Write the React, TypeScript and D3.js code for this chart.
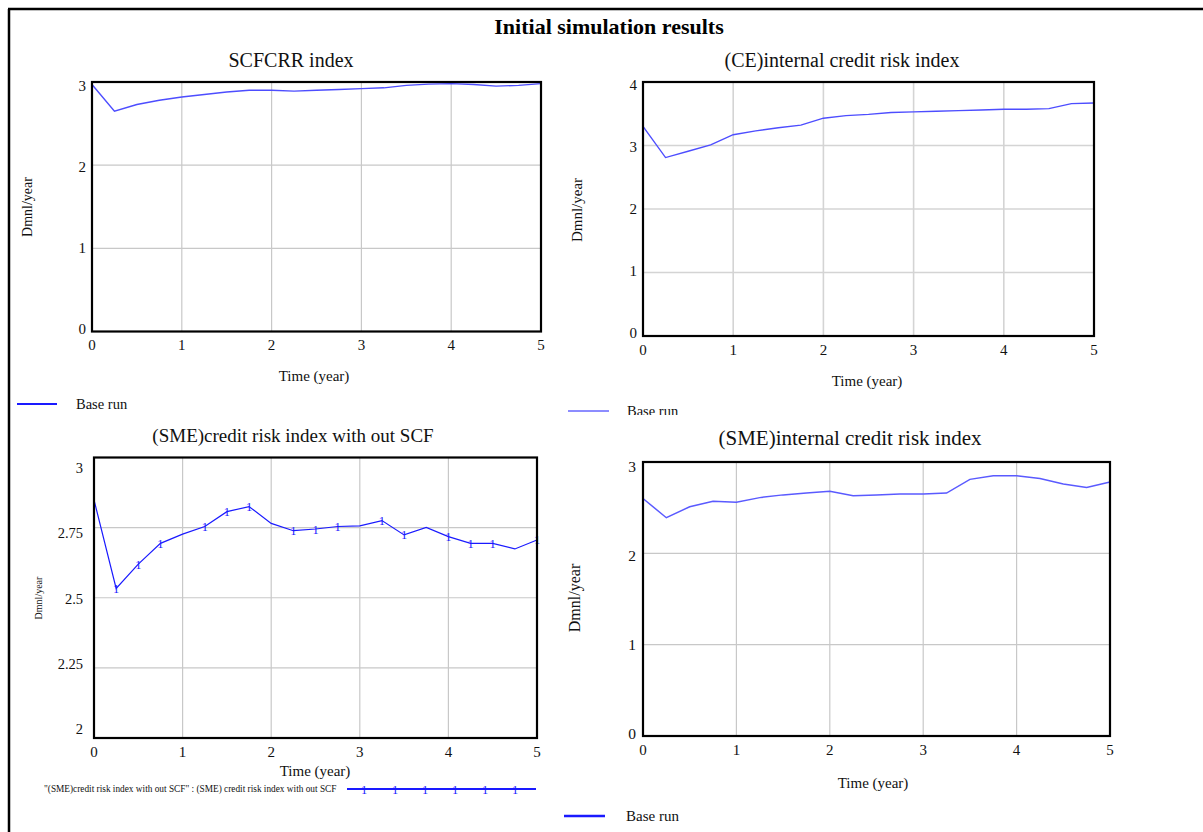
import { scaleLinear, line } from "d3";

// simulation time steps (year)
const times = [0, 0.25, 0.5, 0.75, 1, 1.25, 1.5, 1.75, 2, 2.25, 2.5, 2.75, 3, 3.25, 3.5, 3.75, 4, 4.25, 4.5, 4.75, 5];
const xTicks = [0, 1, 2, 3, 4, 5];

// series
const scfcrrIndex = [2.97, 2.65, 2.73, 2.78, 2.82, 2.85, 2.88, 2.9, 2.9, 2.89, 2.9, 2.91, 2.92, 2.93, 2.96, 2.975, 2.98, 2.97, 2.95, 2.96, 2.98];
const ceInternal = [3.3, 2.81, 2.91, 3.01, 3.17, 3.23, 3.28, 3.32, 3.43, 3.47, 3.49, 3.52, 3.53, 3.54, 3.55, 3.56, 3.57, 3.57, 3.58, 3.66, 3.67];
const smeNoScf = [2.849, 2.533, 2.62, 2.694, 2.727, 2.754, 2.807, 2.825, 2.765, 2.739, 2.745, 2.754, 2.756, 2.775, 2.724, 2.751, 2.718, 2.694, 2.694, 2.674, 2.706];
const smeInternal = [2.6, 2.39, 2.51, 2.57, 2.56, 2.61, 2.64, 2.66, 2.68, 2.63, 2.64, 2.65, 2.65, 2.66, 2.81, 2.85, 2.85, 2.82, 2.76, 2.72, 2.78];
const smeNoScfMarks = [0.25, 0.5, 0.75, 1.25, 1.5, 1.75, 2.25, 2.5, 2.75, 3.25, 3.5, 4, 4.25, 4.5, 5];

const ticksTL = [0, 1, 2, 3];
const ticksTR = [0, 1, 2, 3, 4];
const ticksBL = [2, 2.25, 2.5, 2.75, 3];
const ticksBR = [0, 1, 2, 3];

const FONT = "'Liberation Serif', 'Times New Roman', serif";

type PanelCfg = {
  title: string;
  titleX: number;
  titleY: number;
  titleSize: number;
  left: number;
  right: number;
  top: number;
  bottom: number;
  domain: [number, number];
  ticks: number[];
  labTop: number;
  labBottom: number;
  labGap: number;
  labSize: number;
  xLabDy: number;
  timeX: number;
  timeY: number;
  unitX: number;
  unitY: number;
  unitSize: number;
  grid: string;
  gridW: number;
  stroke: string;
  strokeW: number;
};

function Panel({ cfg, values, marks }: { cfg: PanelCfg; values: number[]; marks?: number[] }) {
  const x = scaleLinear().domain([0, 5]).range([cfg.left, cfg.right]);
  const y = scaleLinear().domain(cfg.domain).range([cfg.bottom, cfg.top]);
  // vensim pulls the end labels in a little from the frame
  const yLab = scaleLinear()
    .domain(cfg.domain)
    .range([cfg.bottom - cfg.labBottom, cfg.top + cfg.labTop]);
  const path = line<number>()
    .x((d, i) => x(times[i]))
    .y((d) => y(d))(values);

  return (
    <g fontFamily={FONT} fill="#111">
      <text x={cfg.titleX} y={cfg.titleY} fontSize={cfg.titleSize} textAnchor="middle" dominantBaseline="central">
        {cfg.title}
      </text>
      {xTicks.slice(1, -1).map((t) => (
        <line key={"gx" + t} x1={x(t)} x2={x(t)} y1={cfg.top} y2={cfg.bottom} stroke={cfg.grid} strokeWidth={cfg.gridW} />
      ))}
      {cfg.ticks.slice(1, -1).map((t) => (
        <line key={"gy" + t} x1={cfg.left} x2={cfg.right} y1={y(t)} y2={y(t)} stroke={cfg.grid} strokeWidth={cfg.gridW} />
      ))}
      <path d={path || ""} fill="none" stroke={cfg.stroke} strokeWidth={cfg.strokeW} />
      {marks &&
        marks.map((t) => {
          const i = times.indexOf(t);
          return (
            <text key={"m" + t} x={x(t)} y={y(values[i]) + 4.5} fontSize={12.5} textAnchor="middle" fill={cfg.stroke}>
              1
            </text>
          );
        })}
      <rect
        x={cfg.left}
        y={cfg.top}
        width={cfg.right - cfg.left}
        height={cfg.bottom - cfg.top}
        fill="none"
        stroke="#000"
        strokeWidth={2.2}
      />
      {cfg.ticks.map((t) => (
        <text
          key={"ly" + t}
          x={cfg.left - cfg.labGap}
          y={yLab(t)}
          fontSize={cfg.labSize}
          textAnchor="end"
          dominantBaseline="central"
        >
          {String(t)}
        </text>
      ))}
      {xTicks.map((t) => (
        <text
          key={"lx" + t}
          x={x(t)}
          y={cfg.bottom + cfg.xLabDy}
          fontSize={15}
          textAnchor="middle"
          dominantBaseline="central"
        >
          {t}
        </text>
      ))}
      <text x={cfg.timeX} y={cfg.timeY} fontSize={15} textAnchor="middle" dominantBaseline="central">
        Time (year)
      </text>
      <text
        transform={`translate(${cfg.unitX},${cfg.unitY}) rotate(-90)`}
        fontSize={cfg.unitSize}
        textAnchor="middle"
        dominantBaseline="central"
      >
        Dmnl/year
      </text>
    </g>
  );
}

const tl: PanelCfg = {
  title: "SCFCRR index", titleX: 291, titleY: 60, titleSize: 20,
  left: 92, right: 541, top: 82, bottom: 331.5, domain: [0, 3], ticks: ticksTL,
  labTop: 4, labBottom: 2.5, labGap: 6, labSize: 15, xLabDy: 13,
  timeX: 314, timeY: 375.5, unitX: 27, unitY: 207, unitSize: 14,
  grid: "#c8c8c8", gridW: 1.2, stroke: "#4d4dff", strokeW: 1.4,
};
const tr: PanelCfg = {
  title: "(CE)internal credit risk index", titleX: 842, titleY: 60, titleSize: 20,
  left: 643, right: 1094, top: 82, bottom: 336, domain: [0, 4], ticks: ticksTR,
  labTop: 3, labBottom: 3, labGap: 6, labSize: 15, xLabDy: 14,
  timeX: 867, timeY: 381, unitX: 577, unitY: 210, unitSize: 15,
  grid: "#d4d4d4", gridW: 1.6, stroke: "#4d4dff", strokeW: 1.4,
};
const bl: PanelCfg = {
  title: "(SME)credit risk index with out SCF", titleX: 293, titleY: 435, titleSize: 19,
  left: 94, right: 537, top: 457.5, bottom: 738, domain: [2, 3], ticks: ticksBL,
  labTop: 10.5, labBottom: 9, labGap: 11, labSize: 14.5, xLabDy: 14,
  timeX: 315, timeY: 771, unitX: 38, unitY: 598, unitSize: 10,
  grid: "#c8c8c8", gridW: 1.2, stroke: "#1a1aff", strokeW: 1.2,
};
const br: PanelCfg = {
  title: "(SME)internal credit risk index", titleX: 850, titleY: 438, titleSize: 21,
  left: 643, right: 1110, top: 462, bottom: 736, domain: [0, 3], ticks: ticksBR,
  labTop: 4, labBottom: 3, labGap: 7, labSize: 15.5, xLabDy: 14,
  timeX: 873, timeY: 783, unitX: 574, unitY: 598, unitSize: 16,
  grid: "#c8c8c8", gridW: 1.2, stroke: "#5a5aff", strokeW: 1.5,
};

export default function App() {
  const legendMarks = [364, 395, 425, 455, 485, 515];
  return (
    <svg
      width={1203}
      height={832}
      style={{ position: "absolute", left: 0, top: 0, display: "block", background: "#fff" }}
    >
      <defs>
        <clipPath id="trLegendClip">
          <rect x={560} y={395} width={200} height={20} />
        </clipPath>
      </defs>
      <line x1={8} x2={1203} y1={9} y2={9} stroke="#000" strokeWidth={2.5} />
      <line x1={9} x2={9} y1={9} y2={832} stroke="#000" strokeWidth={2.5} />
      <text
        x={609}
        y={26}
        fontFamily={FONT}
        fontSize={22}
        fontWeight="bold"
        textAnchor="middle"
        dominantBaseline="central"
      >
        Initial simulation results
      </text>

      <Panel cfg={tl} values={scfcrrIndex} />
      <Panel cfg={tr} values={ceInternal} />
      <Panel cfg={bl} values={smeNoScf} marks={smeNoScfMarks} />
      <Panel cfg={br} values={smeInternal} />

      {/* legends */}
      <g fontFamily={FONT} fill="#111">
        <line x1={17} x2={57} y1={404} y2={404} stroke="#1a1aff" strokeWidth={2} />
        <text x={76} y={404} fontSize={14.5} dominantBaseline="central">Base run</text>

        <line x1={568} x2={609} y1={411} y2={411} stroke="#1a1aff" strokeWidth={1} />
        <text x={627} y={411} fontSize={14.5} dominantBaseline="central" clipPath="url(#trLegendClip)">
          Base run
        </text>

        <text x={44} y={789} fontSize={9.3} dominantBaseline="central">
          "(SME)credit risk index with out SCF" : (SME) credit risk index with out SCF
        </text>
        <line x1={347} x2={536} y1={789} y2={789} stroke="#1a1aff" strokeWidth={2} />
        {legendMarks.map((mx) => (
          <text key={mx} x={mx} y={793.5} fontSize={12.5} textAnchor="middle" fill="#1a1aff">
            1
          </text>
        ))}

        <line x1={564} x2={605} y1={816} y2={816} stroke="#1a1aff" strokeWidth={2.5} />
        <text x={626} y={816} fontSize={15} dominantBaseline="central">Base run</text>
      </g>
    </svg>
  );
}
